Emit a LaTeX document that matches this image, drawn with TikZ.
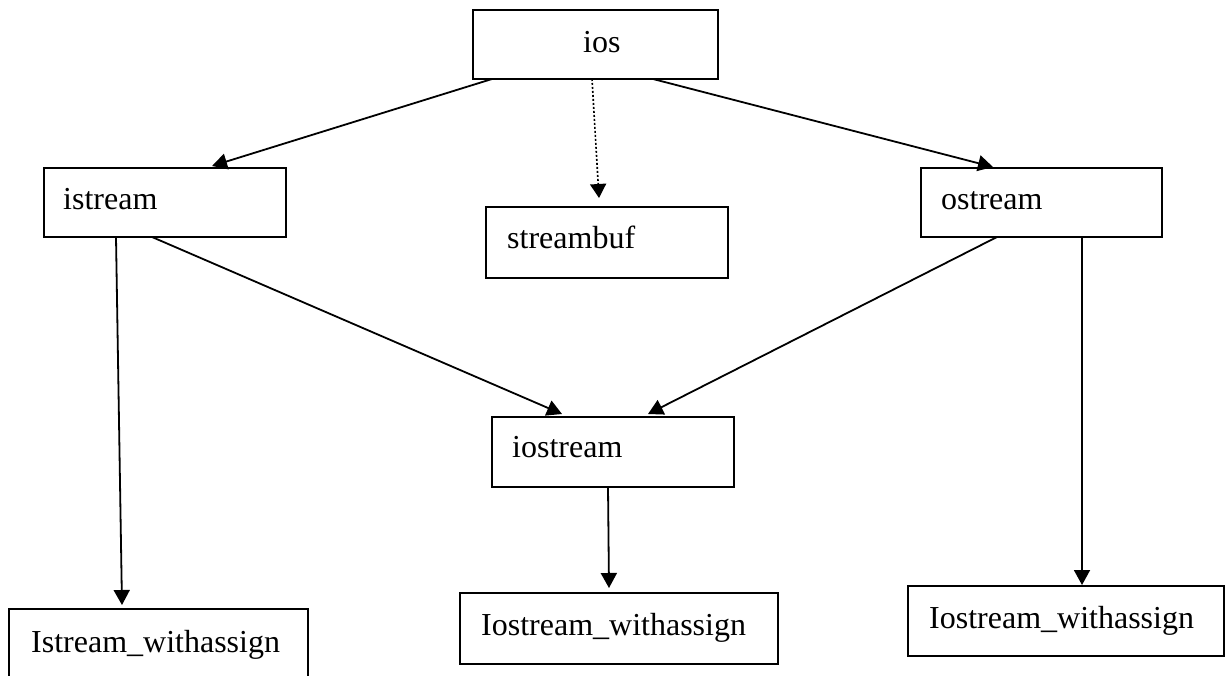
\documentclass[tikz,border=0pt]{standalone}
\usepackage{fontspec}
\setmainfont{Liberation Serif}
\usetikzlibrary{arrows.meta,calc}

\tikzset{
  box/.style={draw, line width=2pt, inner sep=0pt, outer sep=0pt, anchor=north west},
  lbl/.style={inner sep=0pt, anchor=base west, font=\fontsize{32}{38}\selectfont},
  arr/.style={line width=1.8pt, -{Triangle[length=15pt,width=16pt]}},
  dotarr/.style={line width=1.6pt, dash pattern=on 2pt off 2pt,
                 -{Triangle[length=14pt,width=16pt]}}
}

\begin{document}
\begin{tikzpicture}[x=1pt, y=-1pt]
  \useasboundingbox[fill=white] (0,0) rectangle (1225,675);

  % class boxes (top-left corner, size)
  \node[box, minimum width=245pt, minimum height=69pt] (ios)       at (473,10)  {};
  \node[box, minimum width=242pt, minimum height=69pt] (istream)   at (44,168)  {};
  \node[box, minimum width=242pt, minimum height=71pt] (streambuf) at (486,207) {};
  \node[box, minimum width=241pt, minimum height=69pt] (ostream)   at (921,168) {};
  \node[box, minimum width=242pt, minimum height=70pt] (iostream)  at (492,417) {};
  \node[box, minimum width=299pt, minimum height=72pt] (isw)       at (9,609)   {};
  \node[box, minimum width=318pt, minimum height=71pt] (iosw)      at (460,593) {};
  \node[box, minimum width=316pt, minimum height=70pt] (osw)       at (908,586) {};

  % class names
  \node[lbl] (t-ios)       at ($(ios.north west)+(110,42)$)       {ios};
  \node[lbl] (t-istream)   at ($(istream.north west)+(19,41)$)    {istream};
  \node[lbl] (t-streambuf) at ($(streambuf.north west)+(21,41)$)  {streambuf};
  \node[lbl] (t-ostream)   at ($(ostream.north west)+(20,41)$)    {ostream};
  \node[lbl] (t-iostream)  at ($(iostream.north west)+(20,40)$)   {iostream};
  \node[lbl] (t-isw)       at ($(isw.north west)+(22,43)$)        {Istream\_withassign};
  \node[lbl] (t-iosw)      at ($(iosw.north west)+(21,42)$)       {Iostream\_withassign};
  \node[lbl] (t-osw)       at ($(osw.north west)+(21,42)$)        {Iostream\_withassign};

  % inheritance arrows
  \draw[arr]    ($(ios.south west)+(19,0)$)      -- ($(istream.north west)+(168,-2)$);
  \draw[dotarr] ($(ios.south west)+(119,0)$)     -- ($(streambuf.north west)+(113,-9)$);
  \draw[arr]    ($(ios.south west)+(180,0)$)     -- ($(ostream.north west)+(72,-1)$);
  \draw[arr]    ($(istream.south west)+(108,0)$) -- ($(iostream.north west)+(70,-3)$);
  \draw[arr]    ($(ostream.south west)+(76,0)$)  -- ($(iostream.north west)+(156,-3)$);
  \draw[arr]    ($(istream.south west)+(72,0)$)  -- ($(isw.north west)+(113,-4)$);
  \draw[arr]    ($(iostream.south west)+(116,0)$) -- ($(iosw.north west)+(149,-5)$);
  \draw[arr]    ($(ostream.south west)+(161,0)$) -- ($(osw.north west)+(174,-1)$);
\end{tikzpicture}
\end{document}
